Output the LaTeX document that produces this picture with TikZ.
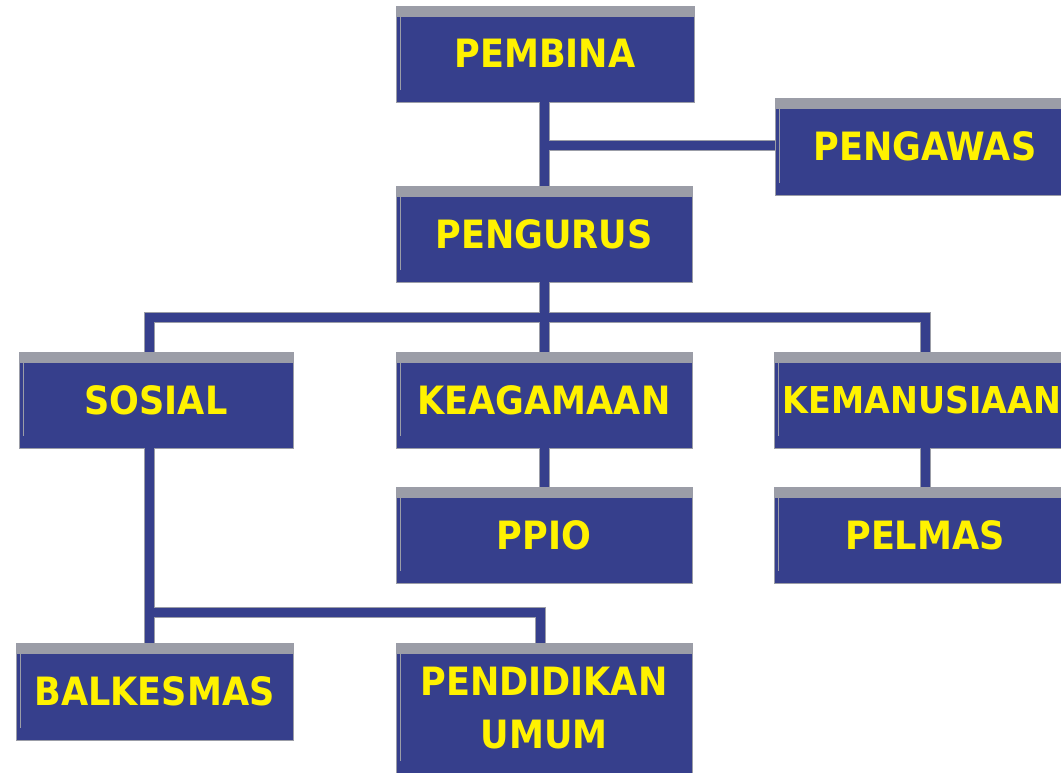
\documentclass[tikz,border=0pt]{standalone}
\usepackage{fontspec}
\newfontfamily\labelfont{DejaVu Sans Condensed}[BoldFont={* Bold}]
\definecolor{boxblue}{RGB}{54,63,140}
\definecolor{rimgrey}{RGB}{155,157,167}
\definecolor{labelyellow}{RGB}{255,242,0}

% connector paths, drawn twice: a grey edge pass and a blue core pass
\newcommand\wires[1]{%
  \draw[#1] (pengurus.north) -- (pengurus.north |- pembina.south);
  \draw[#1] (pengawas.west |- wireR) -- (pengurus.north |- wireR);
  \draw[#1] (pengurus.south) -- (keagamaan.north);
  \draw[#1] ([xshift=-7pt]sosial.north) -- ([xshift=-7pt]sosial.north |- bus)
            -- (kemanusiaan.north |- bus) -- (kemanusiaan.north);
  \draw[#1] (keagamaan.south) -- (ppio.north);
  \draw[#1] (kemanusiaan.south) -- (pelmas.north);
  \draw[#1] ([xshift=-7pt]sosial.south) -- ([xshift=-7pt]sosial.south |- balkesmas.north);
  \draw[#1] ([xshift=-7pt]sosial.south |- low) -- (low)
            -- (low |- pendidikan.north);
}

\tikzset{
  orgbox/.style={rectangle, fill=boxblue, draw=rimgrey, line width=0.8pt,
    inner sep=0pt, text=labelyellow, align=center,
    font=\labelfont\bfseries\fontsize{39}{53}\selectfont,
    path picture={
      \fill[rimgrey] (path picture bounding box.north west)
        rectangle ([yshift=-11pt]path picture bounding box.north east);
      \draw[rimgrey, line width=0.8pt]
        ([xshift=4pt,yshift=-11pt]path picture bounding box.north west)
        -- ([xshift=4pt,yshift=12pt]path picture bounding box.south west);
    }},
  wireedge/.style={draw=rimgrey, line width=11pt},
  wirecore/.style={draw=boxblue, line width=9pt},
}

\begin{document}
\begin{tikzpicture}[x=1pt,y=-1pt]
  \useasboundingbox (0,0) rectangle (1061,772);

  \node[orgbox, minimum width=298pt, minimum height=96pt] (pembina) at (545,54) {\raisebox{2pt}{PEMBINA}};
  \node[orgbox, minimum width=300pt, minimum height=97pt] (pengawas) at (925,146.5) {PENGAWAS};
  \node[orgbox, minimum width=296pt, minimum height=96pt] (pengurus) at (544,234) {PENGURUS};
  \node[orgbox, minimum width=274pt, minimum height=96pt] (sosial) at (156,400) {SOSIAL};
  \node[orgbox, minimum width=296pt, minimum height=96pt] (keagamaan) at (544,400) {KEAGAMAAN};
  \node[orgbox, minimum width=302pt, minimum height=96pt] (kemanusiaan) at (925,400) {};
  \node[text=labelyellow, inner sep=0pt, font=\labelfont\bfseries\fontsize{37}{50}\selectfont]
    (kemanusiaantext) at (922,400) {KEMANUSIAAN};
  \node[orgbox, minimum width=296pt, minimum height=96pt] (ppio) at (544,535) {PPIO};
  \node[orgbox, minimum width=302pt, minimum height=96pt] (pelmas) at (925,535) {PELMAS};
  \node[orgbox, minimum width=277pt, minimum height=97pt] (balkesmas) at (154.5,691.5) {BALKESMAS};
  \node[orgbox, minimum width=296pt, minimum height=130pt] (pendidikan) at (544,708) {PENDIDIKAN\\UMUM};

  \coordinate (wireR) at (544,145);
  \coordinate (bus) at (544,317);
  \coordinate (low) at (540,612);

  \wires{wireedge}
  \wires{wirecore}
\end{tikzpicture}
\end{document}
